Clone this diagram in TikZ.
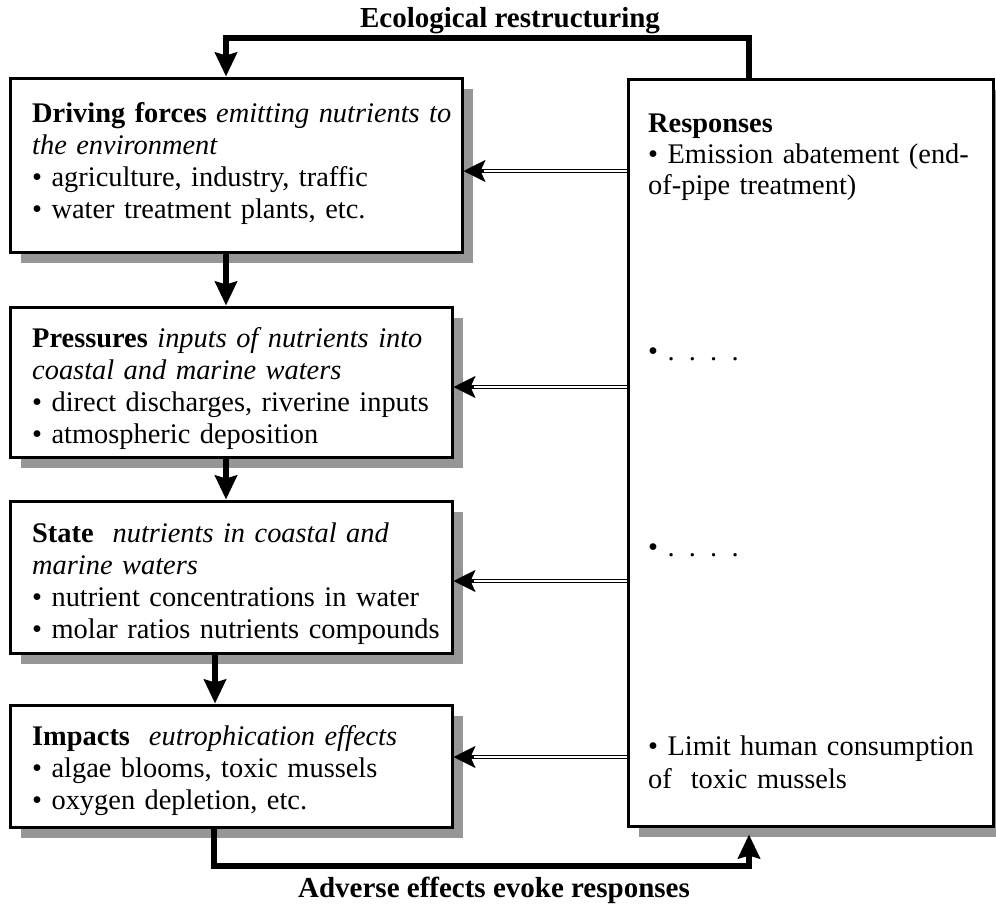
\documentclass[tikz,border=0pt]{standalone}
\usepackage{fontspec}
\setmainfont{Liberation Serif}
\usetikzlibrary{arrows.meta,shadows,calc}
\definecolor{shadowgray}{RGB}{150,150,150}
\begin{document}
\begin{tikzpicture}[x=1pt,y=-1pt,
  font=\fontsize{28.4}{32}\selectfont,
  box/.style={draw, line width=3pt, fill=white, rectangle, inner sep=0pt,
    general shadow={fill=shadowgray, shadow xshift=11pt, shadow yshift=-11pt}},
  txt/.style={anchor=base west, inner sep=0pt, align=left, text width=440pt},
  flow/.style={line width=6pt, -{Stealth[length=24pt,width=22pt,inset=3pt]}},
  dbl/.style={double, line width=1.3pt, double distance=2pt, shorten >=14pt},
  tip/.style={line width=2pt, -{Stealth[length=22pt,width=22pt,inset=5pt,fill=black]}},
  lbl/.style={font=\fontsize{29}{32}\selectfont\bfseries, inner sep=0pt, anchor=base}
]
\useasboundingbox (0,0) rectangle (996,908);

% boxes
\node[box, minimum width=452pt, minimum height=174pt] (drv) at (236,165) {};
\node[box, minimum width=442pt, minimum height=150pt] (prs) at (231,382) {};
\node[box, minimum width=442pt, minimum height=152pt] (st)  at (231,577) {};
\node[box, minimum width=442pt, minimum height=122pt] (imp) at (231,766) {};
\node[box, minimum width=365pt, minimum height=747pt] (resp) at (810.5,452.5) {};

% texts in the left boxes
\node[txt] (drvT) at (32,122) {\textbf{Driving forces} \textit{emitting nutrients to}\\\textit{the environment}\\• agriculture, industry, traffic\\• water treatment plants, etc.};
\node[txt] (prsT) at (32,347) {\textbf{Pressures} \textit{inputs of nutrients into}\\\textit{coastal and marine waters}\\• direct discharges, riverine inputs\\• atmospheric deposition};
\node[txt] (stT) at (32,542) {\textbf{State}\ \ \textit{nutrients in coastal and}\\\textit{marine waters}\\• nutrient concentrations in water\\• molar ratios nutrients compounds};
\node[txt] (impT) at (32,745) {\textbf{Impacts}\ \ \textit{eutrophication effects}\\• algae blooms, toxic mussels\\• oxygen depletion, etc.};

% texts in the responses box
\node[txt, text width=340pt, font=\fontsize{28.4}{31}\selectfont] (respT) at (648,132) {\textbf{Responses}\\• Emission abatement (end-\\of-pipe treatment)};
\node[txt, text width=340pt] (d1) at (648,360) {• . . . .};
\node[txt, text width=340pt] (d2) at (648,556) {• . . . .};
\node[txt, text width=340pt, font=\fontsize{28.4}{33}\selectfont] (lim) at (648,755) {• Limit human consumption\\of\ \ toxic mussels};

% helper coordinates
\coordinate (ax) at (226,0);
\coordinate (bx) at (215,0);
\coordinate (r1) at (0,171);
\coordinate (r2) at (0,387);
\coordinate (r3) at (0,581);
\coordinate (r4) at (0,757);
\coordinate (tr) at (749,38);
\coordinate (tl) at (226,38);
\coordinate (bl) at (214,866);
\coordinate (br) at (749,866);

% downward flow
\draw[flow] (drv.south -| ax) -- (prs.north -| ax);
\draw[flow] (prs.south -| ax) -- (st.north -| ax);
\draw[flow] (st.south -| bx) -- (imp.north -| bx);

% responses to the left boxes
\draw[dbl] (resp.west |- r1) -- (drv.east |- r1);
\draw[tip] ($(drv.east |- r1)+(20,0)$) -- (drv.east |- r1);
\draw[dbl] (resp.west |- r2) -- (prs.east |- r2);
\draw[tip] ($(prs.east |- r2)+(20,0)$) -- (prs.east |- r2);
\draw[dbl] (resp.west |- r3) -- (st.east |- r3);
\draw[tip] ($(st.east |- r3)+(20,0)$) -- (st.east |- r3);
\draw[dbl] (resp.west |- r4) -- (imp.east |- r4);
\draw[tip] ($(imp.east |- r4)+(20,0)$) -- (imp.east |- r4);

% feedback loops
\draw[flow] (resp.north -| tr) -- (tr) -- (tl) -- (drv.north -| tl);
\draw[flow] (imp.south -| bl) -- (bl) -- (br) -- ($(resp.south -| br)+(0,7)$);

\node[lbl] (eco) at (510,27) {Ecological restructuring};
\node[lbl] (adv) at (494,897) {Adverse effects evoke responses};
\end{tikzpicture}
\end{document}
